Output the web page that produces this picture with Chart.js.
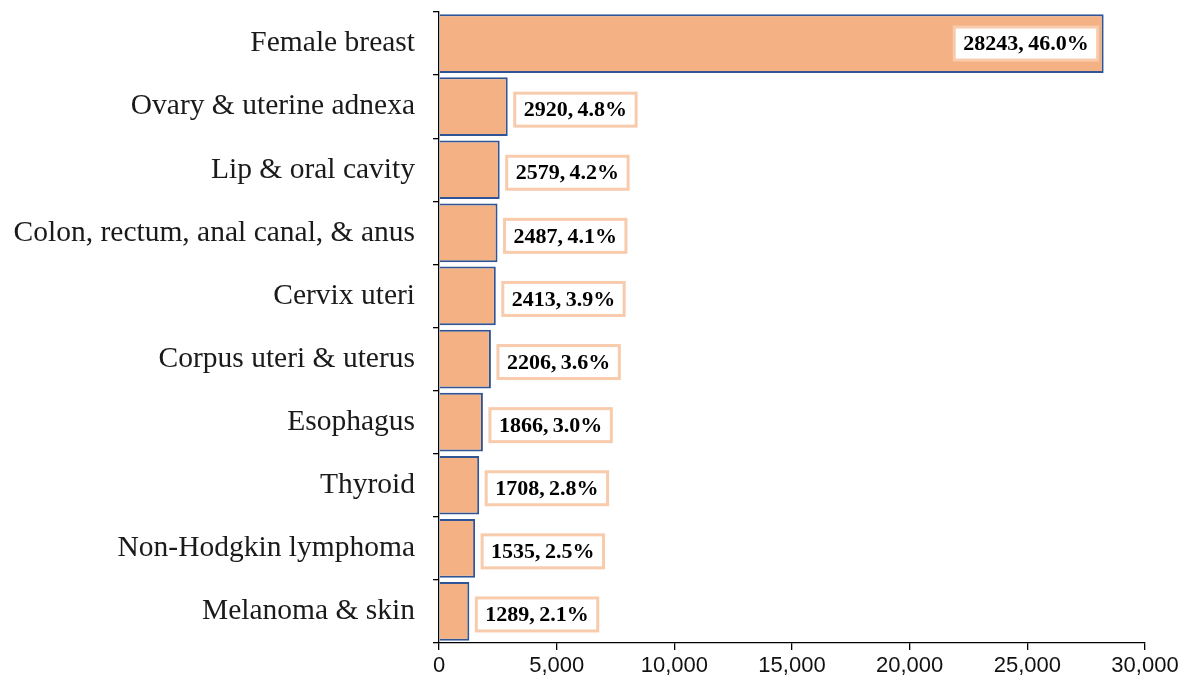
<!DOCTYPE html>
<html lang="en">
<head>
  <meta charset="UTF-8" />
  <title>Cancer cases by site</title>
  <style>
    body { margin: 0; background: #fff; }
    .wrap { width: 1188px; height: 680px; }
  </style>
</head>
<body>
  <div class="wrap"><canvas id="grafico" width="1188" height="680"></canvas></div>

  <script src="https://cdn.jsdelivr.net/npm/chart.js"></script>
  <script>
    const sites = [
      'Female breast',
      'Ovary & uterine adnexa',
      'Lip & oral cavity',
      'Colon, rectum, anal canal, & anus',
      'Cervix uteri',
      'Corpus uteri & uterus',
      'Esophagus',
      'Thyroid',
      'Non-Hodgkin lymphoma',
      'Melanoma & skin'
    ];
    const cases = [28243, 2920, 2579, 2487, 2413, 2206, 1866, 1708, 1535, 1289];
    const percents = ['46.0%', '4.8%', '4.2%', '4.1%', '3.9%', '3.6%', '3.0%', '2.8%', '2.5%', '2.1%'];
    const xTicks = [0, 5000, 10000, 15000, 20000, 25000, 30000];

    // caixinhas de rotulo com fundo branco
    const rotulos = {
      id: 'rotulos',
      afterDatasetsDraw(chart) {
        const ctx = chart.ctx;
        const meta = chart.getDatasetMeta(0);
        ctx.save();
        ctx.font = 'bold 22px "Liberation Serif", "Times New Roman", serif';
        ctx.textBaseline = 'middle';
        meta.data.forEach((bar, i) => {
          const txt = cases[i] + ',\u2009' + percents[i];
          const w = ctx.measureText(txt).width + 18;
          const h = 33;
          const dentro = i === 0;
          const x = dentro ? bar.x - 6 - w : bar.x + 7;
          const y = bar.y + (dentro ? 0 : 3) - h / 2;
          ctx.fillStyle = '#fff';
          ctx.fillRect(x, y, w, h);
          ctx.strokeStyle = '#F8CBAD';
          ctx.lineWidth = 3;
          ctx.strokeRect(x, y, w, h);
          ctx.fillStyle = '#000';
          ctx.textAlign = 'center';
          ctx.fillText(txt, x + w / 2, y + h / 2 + 1);
        });
        ctx.restore();
      }
    };

    new Chart(document.getElementById('grafico'), {
      type: 'bar',
      data: {
        labels: sites,
        datasets: [{
          data: cases,
          backgroundColor: '#F4B183',
          borderColor: '#2F5597',
          borderWidth: 2,
          barPercentage: 0.93,
          categoryPercentage: 1
        }]
      },
      options: {
        indexAxis: 'y',
        responsive: false,
        animation: false,
        layout: { padding: { top: 12, right: 43, bottom: 0, left: 0 } },
        plugins: { legend: { display: false }, tooltip: { enabled: false } },
        scales: {
          x: {
            min: 0,
            max: 30000,
            afterBuildTicks: s => { s.ticks = xTicks.map(v => ({ value: v })); },
            afterFit: s => { s.height = 37; s.paddingLeft = 0; s.paddingRight = 0; },
            border: { color: '#000', width: 1.3 },
            grid: { drawOnChartArea: false, drawTicks: true, tickLength: 7, color: '#000', lineWidth: 1.3 },
            ticks: {
              color: '#111',
              padding: 3,
              font: { family: '"Liberation Sans", Arial, sans-serif', size: 22 },
              callback: v => v.toLocaleString('en-US')
            }
          },
          y: {
            afterFit: s => { s.width = 439; s.paddingTop = 0; s.paddingBottom = 0; },
            border: { color: '#000', width: 1.3 },
            grid: { drawOnChartArea: false, drawTicks: true, tickLength: 6, color: '#000', lineWidth: 1.3, offset: true },
            ticks: {
              color: '#1a1a1a',
              padding: 18,
              font: { family: '"Liberation Serif", "Times New Roman", serif', size: 29.5 }
            }
          }
        }
      },
      plugins: [rotulos]
    });
  </script>
</body>
</html>
